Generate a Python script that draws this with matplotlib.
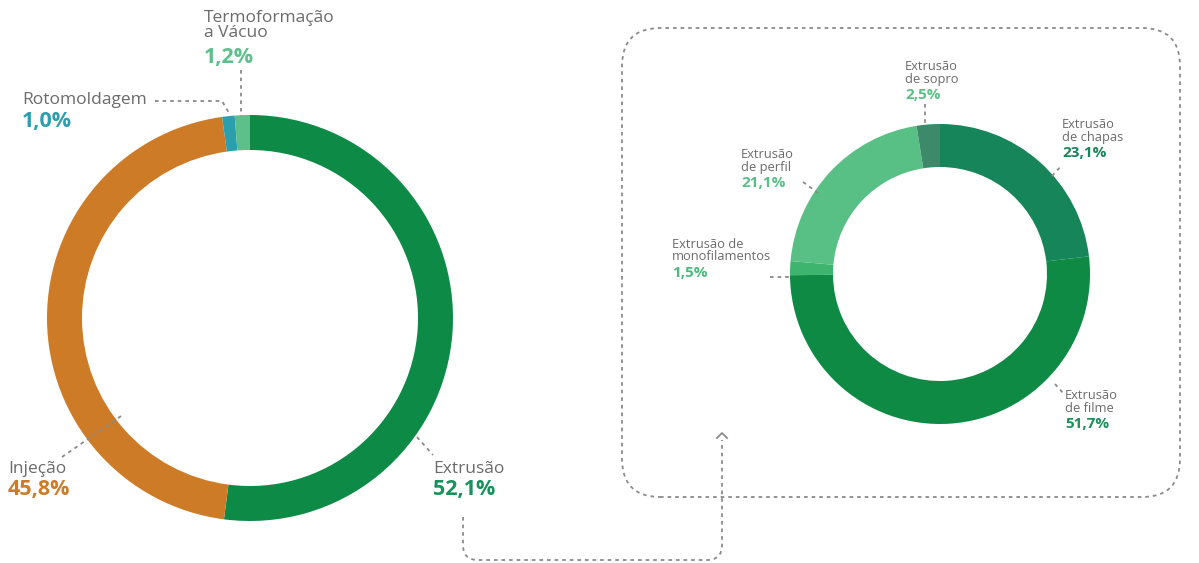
import matplotlib.pyplot as plt
from matplotlib.patches import FancyBboxPatch, PathPatch
from matplotlib.path import Path

# Processos de transformação (anel principal)
processos = ["Extrusão", "Injeção", "Rotomoldagem", "Termoformação\na Vácuo"]
processos_pct = [52.1, 45.8, 1.0, 1.2]
processos_cores = ["#0e8a47", "#cd7b27", "#2b9fae", "#5cc08b"]

# Detalhamento da extrusão (anel secundário)
extrusao = ["Extrusão\nde chapas", "Extrusão\nde filme", "Extrusão de\nmonofilamentos",
            "Extrusão\nde perfil", "Extrusão\nde sopro"]
extrusao_pct = [23.1, 51.7, 1.5, 21.1, 2.5]
extrusao_cores = ["#17855a", "#0e8a45", "#3db56e", "#58bf85", "#3d8a6b"]

W, H = 1199, 563
GRAY = "#6b6b6b"
DOT = "#8a8a8a"
plt.rcParams["font.family"] = ["Open Sans", "DejaVu Sans"]


def fmt(v):
    return f"{v:.1f}%".replace(".", ",")


def y(v):
    # coordenadas de cima para baixo
    return H - v


def dotted(ax, xs, ys):
    ax.plot(xs, [y(v) for v in ys], color=DOT, lw=1.3, dashes=(2, 2.2),
            solid_capstyle="butt")


def label(ax, x0, y0, name, value, color, size, bold_size, gap):
    n = name.count("\n") + 1
    ax.text(x0, y(y0), name, ha="left", va="top", fontsize=size, color=GRAY,
            linespacing=0.95)
    ax.text(x0, y(y0 + gap * n), fmt(value), ha="left", va="top",
            fontsize=bold_size, color=color, fontweight="bold")


fig = plt.figure(figsize=(W / 100, H / 100), dpi=100)
ax = fig.add_axes([0, 0, 1, 1])

# anel principal
ax.pie(processos_pct, colors=processos_cores, startangle=90, counterclock=False,
       radius=203, center=(250, y(318)),
       wedgeprops=dict(width=35, edgecolor="none"))

# anel da extrusão
ax.pie(extrusao_pct, colors=extrusao_cores, startangle=90, counterclock=False,
       radius=150, center=(940, y(274)),
       wedgeprops=dict(width=43, edgecolor="none"))

ax.set_xlim(0, W)
ax.set_ylim(0, H)
ax.set_aspect("equal")
ax.axis("off")

# rótulos do anel principal
big, bigb, gap = 12.5, 15.5, 18.5
label(ax, 22, 92, processos[2], processos_pct[2], processos_cores[2], big, bigb, gap)
label(ax, 204, 10, processos[3], processos_pct[3], processos_cores[3], big, bigb, gap)
label(ax, 8, 461, processos[1], processos_pct[1], processos_cores[1], big, bigb, gap)
label(ax, 433, 461, processos[0], processos_pct[0], "#16925a", big, bigb, gap)

# rótulos do anel da extrusão
small, smallb, sgap = 9.3, 11, 13.8
label(ax, 1062, 118, extrusao[0], extrusao_pct[0], extrusao_cores[0], small, smallb, sgap)
label(ax, 1065, 389, extrusao[1], extrusao_pct[1], "#17905a", small, smallb, sgap)
label(ax, 672, 238, extrusao[2], extrusao_pct[2], "#4cba78", small, smallb, sgap)
label(ax, 741, 148, extrusao[3], extrusao_pct[3], extrusao_cores[3], small, smallb, sgap)
label(ax, 905, 60, extrusao[4], extrusao_pct[4], extrusao_cores[3], small, smallb, sgap)

# linhas guia
dotted(ax, [155, 222, 229], [101, 101, 113])
dotted(ax, [241, 241], [70, 116])
dotted(ax, [62, 124], [457, 414])
dotted(ax, [417, 433], [437, 455])
dotted(ax, [925, 925], [104, 124])
dotted(ax, [1052, 1062], [176, 165])
dotted(ax, [803, 818], [182, 193])
dotted(ax, [770, 790], [277, 277])
dotted(ax, [1055, 1063], [384, 393])

# moldura tracejada do detalhamento
box = FancyBboxPatch((622, y(497)), 1180 - 622, 497 - 28,
                     boxstyle="round,pad=0,rounding_size=38",
                     fill=False, edgecolor=DOT, lw=1.3, linestyle=(0, (2, 2.2)))
ax.add_patch(box)

# conector entre os anéis
verts = [(463, y(517)), (463, y(545)), (463, y(560)), (478, y(560)),
         (707, y(560)), (722, y(560)), (722, y(545)), (722, y(440))]
codes = [Path.MOVETO, Path.LINETO, Path.CURVE3, Path.CURVE3,
         Path.LINETO, Path.CURVE3, Path.CURVE3, Path.LINETO]
ax.add_patch(PathPatch(Path(verts, codes), fill=False, edgecolor=DOT, lw=1.3,
                       linestyle=(0, (2, 2.2))))
ax.plot([717, 722, 727], [y(438), y(433), y(438)], color=DOT, lw=1.3)

fig.savefig("out.png", dpi=100)
